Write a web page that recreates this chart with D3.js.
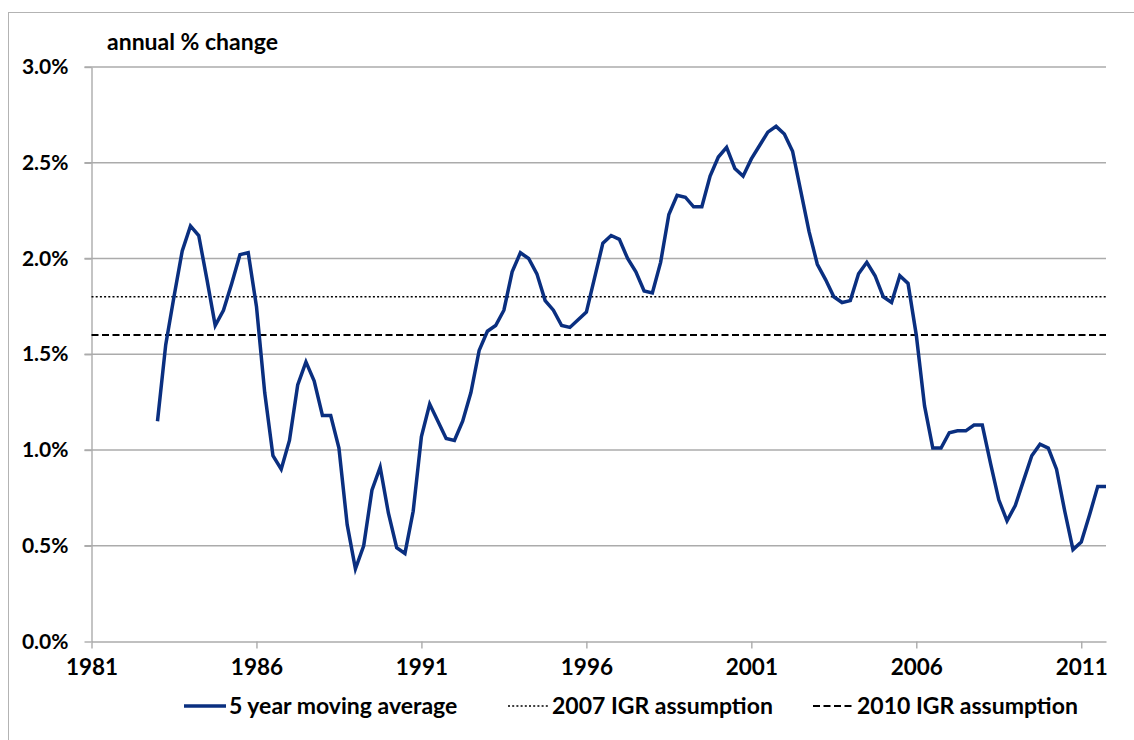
<!DOCTYPE html>
<html>
<head>
<meta charset="utf-8">
<script src="https://cdn.jsdelivr.net/npm/d3@7"></script>
<style>
  body { margin: 0; background: #fff; }
  svg { font-family: Lato, 'Open Sans', sans-serif; font-weight: bold; }
</style>
</head>
<body>
<svg id="chart" width="1134" height="740"></svg>
<script>
// quarterly 5 year moving average, first value is 1983 Q1
const startYear = 1983;
const movingAverage = [
    1.15, 1.55, 1.80, 2.04,   // 1983
    2.17, 2.12, 1.89, 1.65,   // 1984
    1.73, 1.87, 2.02, 2.03,   // 1985
    1.75, 1.30, 0.97, 0.90,   // 1986
    1.05, 1.34, 1.46, 1.36,   // 1987
    1.18, 1.18, 1.01, 0.61,   // 1988
    0.38, 0.50, 0.79, 0.91,   // 1989
    0.67, 0.49, 0.46, 0.68,   // 1990
    1.07, 1.24, 1.15, 1.06,   // 1991
    1.05, 1.15, 1.30, 1.52,   // 1992
    1.62, 1.65, 1.73, 1.93,   // 1993
    2.03, 2.00, 1.92, 1.78,   // 1994
    1.73, 1.65, 1.64, 1.68,   // 1995
    1.72, 1.90, 2.08, 2.12,   // 1996
    2.10, 2.00, 1.93, 1.83,   // 1997
    1.82, 1.98, 2.23, 2.33,   // 1998
    2.32, 2.27, 2.27, 2.43,   // 1999
    2.53, 2.58, 2.47, 2.43,   // 2000
    2.52, 2.59, 2.66, 2.69,   // 2001
    2.65, 2.56, 2.35, 2.14,   // 2002
    1.97, 1.89, 1.80, 1.77,   // 2003
    1.78, 1.92, 1.98, 1.91,   // 2004
    1.80, 1.77, 1.91, 1.87,   // 2005
    1.60, 1.23, 1.01, 1.01,   // 2006
    1.09, 1.10, 1.10, 1.13,   // 2007
    1.13, 0.93, 0.74, 0.63,   // 2008
    0.71, 0.84, 0.97, 1.03,   // 2009
    1.01, 0.90, 0.68, 0.48,   // 2010
    0.52, 0.66, 0.81, 0.81    // 2011
];

// IGR assumptions (flat lines)
const assumptions = [
    { name: '2007 IGR assumption', value: 1.8, dash: '2,2.2', width: 1.6 },
    { name: '2010 IGR assumption', value: 1.6, dash: '7,3.5', width: 2 }
];

const yearTicks = [1981, 1986, 1991, 1996, 2001, 2006, 2011];
const pctTicks = [0, 0.5, 1.0, 1.5, 2.0, 2.5, 3.0];

const lineColor = '#0a2f80';
const gridColor = '#ababab';

const svg = d3.select('#chart');

// outer chart frame
svg.append('rect')
    .attr('x', 8.5).attr('y', 12.5)
    .attr('width', 1200).attr('height', 800)
    .attr('fill', 'none')
    .attr('stroke', '#b3b3b3')
    .attr('stroke-width', 1);

const plotLeft = 91.5, plotRight = 1106, plotTop = 67, plotBottom = 641.5;

// x in decimal years, quarters at year + q/4
const x = d3.scaleLinear().domain([1981, 2011.75]).range([plotLeft, plotRight]);
const y = d3.scaleLinear().domain([0, 3]).range([plotBottom, plotTop]);

const points = movingAverage.map((v, i) => ({ t: startYear + i / 4, v: v }));

// horizontal gridlines
svg.append('g')
    .selectAll('line')
    .data(pctTicks.filter(d => d > 0))
    .enter()
    .append('line')
    .attr('x1', plotLeft - 7).attr('x2', plotRight)
    .attr('y1', d => y(d)).attr('y2', d => y(d))
    .attr('stroke', gridColor)
    .attr('stroke-width', 1.4);

// y axis
const yAxis = svg.append('g')
    .attr('transform', `translate(${plotLeft},0)`)
    .call(d3.axisLeft(y).tickValues(pctTicks).tickFormat(d => d.toFixed(1) + '%').tickSize(7).tickPadding(16).tickSizeOuter(0));
yAxis.select('.domain').attr('stroke', gridColor).attr('stroke-width', 1.4);
yAxis.selectAll('.tick line').attr('stroke', gridColor).attr('stroke-width', 1.4);
yAxis.selectAll('.tick text')
    .attr('fill', '#000')
    .style('font-family', 'Lato, sans-serif')
    .style('font-weight', 'bold')
    .style('font-size', '21px');

// x axis
const xAxis = svg.append('g')
    .attr('transform', `translate(0,${plotBottom})`)
    .call(d3.axisBottom(x).tickValues(yearTicks).tickFormat(d3.format('d')).tickSize(7).tickPadding(11).tickSizeOuter(0));
xAxis.select('.domain').attr('stroke', gridColor).attr('stroke-width', 1.4);
xAxis.selectAll('.tick line').attr('stroke', gridColor).attr('stroke-width', 1.4);
xAxis.selectAll('.tick text')
    .attr('fill', '#000')
    .style('font-family', 'Lato, sans-serif')
    .style('font-weight', 'bold')
    .style('font-size', '22.5px');

// axis title
svg.append('text')
    .attr('x', 107).attr('y', 50)
    .style('font-size', '23px')
    .text('annual % change');

// assumption lines
svg.append('g')
    .selectAll('line')
    .data(assumptions)
    .enter()
    .append('line')
    .attr('x1', plotLeft).attr('x2', plotRight)
    .attr('y1', d => y(d.value)).attr('y2', d => y(d.value))
    .attr('stroke', '#000')
    .attr('stroke-width', d => d.width)
    .attr('stroke-dasharray', d => d.dash);

// moving average line
const line = d3.line()
    .x(d => x(d.t))
    .y(d => y(d.v));

svg.append('path')
    .datum(points)
    .attr('d', line)
    .attr('fill', 'none')
    .attr('stroke', lineColor)
    .attr('stroke-width', 3.5)
    .attr('stroke-linejoin', 'miter');

// legend
const legendItems = [
    { name: '5 year moving average', x: 184, len: 42, color: lineColor, dash: null, width: 3.5 },
    { name: assumptions[0].name, x: 508, len: 41, color: '#000', dash: assumptions[0].dash, width: 1.6 },
    { name: assumptions[1].name, x: 813, len: 41, color: '#000', dash: assumptions[1].dash, width: 2 }
];
const legendY = 706;

const legend = svg.append('g')
    .selectAll('g')
    .data(legendItems)
    .enter()
    .append('g');

legend.append('line')
    .attr('x1', d => d.x).attr('x2', d => d.x + d.len)
    .attr('y1', legendY).attr('y2', legendY)
    .attr('stroke', d => d.color)
    .attr('stroke-width', d => d.width)
    .attr('stroke-dasharray', d => d.dash);

legend.append('text')
    .attr('x', d => d.x + d.len + 3)
    .attr('y', legendY + 8)
    .style('font-size', '23px')
    .text(d => d.name);
</script>
</body>
</html>
